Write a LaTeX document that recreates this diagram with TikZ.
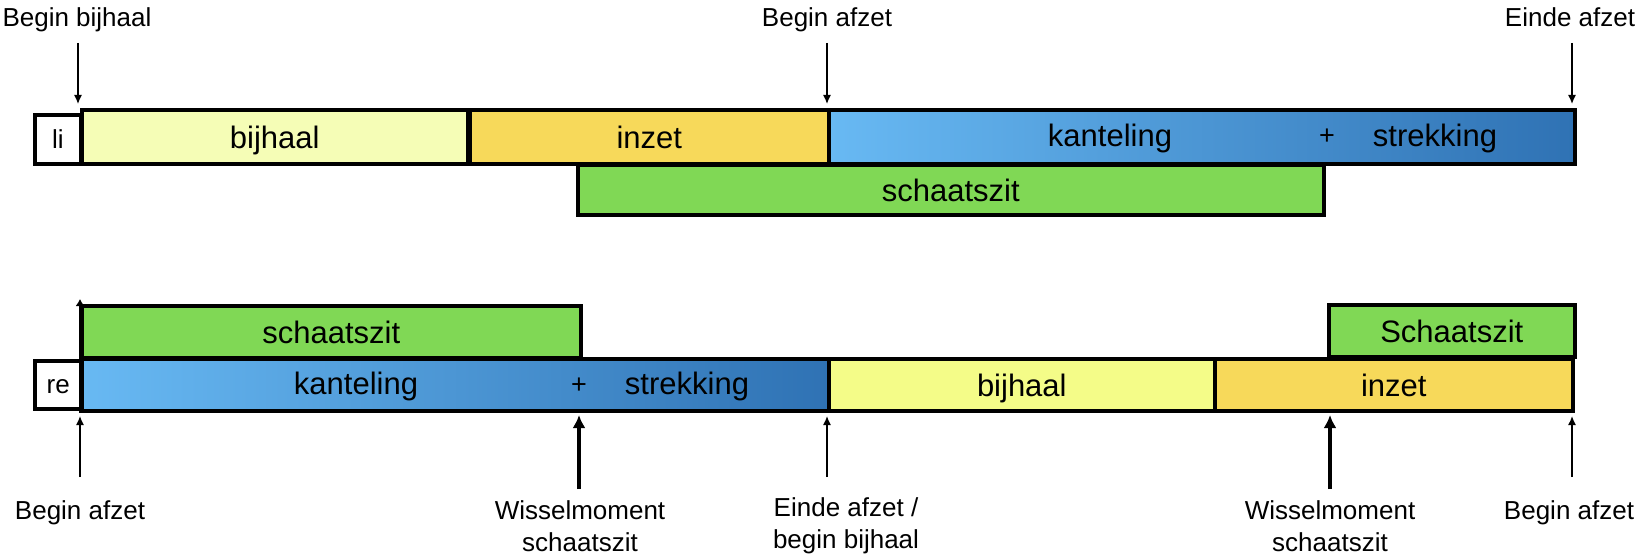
\documentclass[tikz,border=0pt]{standalone}
\usepackage{fontspec}
\setmainfont{Liberation Sans}
\usetikzlibrary{arrows.meta,calc}
\definecolor{paleyel}{HTML}{F5FDB6}
\definecolor{brightyel}{HTML}{F4FC88}
\definecolor{inzetc}{HTML}{F7D95A}
\definecolor{greenc}{HTML}{80D855}
\definecolor{bluel}{HTML}{68B9F3}
\definecolor{blued}{HTML}{2F72B4}
\begin{document}
\begin{tikzpicture}[x=1pt,y=-1pt,
  bar/.style={draw=black, line width=3.6pt, inner sep=0pt, anchor=north west,
    font=\fontsize{31}{31}\selectfont, text height=23pt, text depth=0pt},
  sidebox/.style={draw=black, line width=3.6pt, inner sep=0pt, anchor=north west, fill=white,
    font=\fontsize{26}{26}\selectfont, text height=18pt, text depth=0pt},
  bartext/.style={inner sep=0pt, font=\fontsize{31}{31}\selectfont, text height=23pt, text depth=0pt},
  plustext/.style={inner sep=0pt, font=\fontsize{27}{27}\selectfont, anchor=base},
  lbl/.style={font=\fontsize{26}{32}\selectfont, align=center, inner sep=0pt},
  thinarrow/.style={line width=1.4pt, -{Latex[length=9pt,width=8pt]}},
  thickarrow/.style={line width=3.2pt, -{Latex[length=13pt,width=13pt]}},
]
\useasboundingbox (0,0) rectangle (1643,559);

% ---------- top row (li) ----------
\node[sidebox, minimum width=46pt, minimum height=49pt] (li) at (33,113) {li};
\node[bar, fill=paleyel, minimum width=386pt, minimum height=54pt] (tb) at (80,108) {bijhaal};
\node[bar, fill=inzetc, minimum width=359pt, minimum height=54pt] (ti) at (468,108) {inzet};
\node[bar, left color=bluel, right color=blued, minimum width=746pt, minimum height=54pt] (tk) at (827,108) {};
\node[bartext] (tkt1) at (1110,135) {kanteling};
\node[plustext] (tkt2) at (1327,145) {+};
\node[bartext] (tkt3) at (1435,135) {strekking};
\node[bar, fill=greenc, minimum width=746pt, minimum height=50pt] (tg) at (576,163) {schaatszit};

\node[lbl, anchor=base] (l1) at (77,26.5) {Begin bijhaal};
\node[lbl, anchor=base] (l2) at (827,26.5) {Begin afzet};
\node[lbl, anchor=base] (l3) at (1570,26.5) {Einde afzet};
\coordinate (a1s) at (78,43);  \coordinate (a1e) at (78,104);
\coordinate (a2s) at (827,43); \coordinate (a2e) at (827,104);
\coordinate (a3s) at (1572,43); \coordinate (a3e) at (1572,104);
\draw[thinarrow] (a1s) -- (a1e);
\draw[thinarrow] (a2s) -- (a2e);
\draw[thinarrow] (a3s) -- (a3e);

% ---------- bottom row (re) ----------
\node[sidebox, minimum width=47pt, minimum height=48pt] (re) at (33,359) {re};
\node[bar, fill=greenc, minimum width=499pt, minimum height=52pt] (bg) at (80,304) {schaatszit};
\node[bar, left color=bluel, right color=blued, minimum width=747pt, minimum height=52pt] (bk) at (80,357) {};
\node[bartext] (bkt1) at (356,383) {kanteling};
\node[plustext] (bkt2) at (579,393) {+};
\node[bartext] (bkt3) at (687,383) {strekking};
\node[bar, fill=brightyel, minimum width=386pt, minimum height=52pt] (bb) at (827,357) {bijhaal};
\node[bar, fill=inzetc, minimum width=358pt, minimum height=52pt] (bi) at (1213,357) {inzet};
\node[bar, fill=greenc, minimum width=246pt, minimum height=52pt] (bg2) at (1327,303) {Schaatszit};

\draw[line width=2.6pt, -{Latex[length=7pt,width=9pt]}] (bk.south west) -- ($(bg.north west)+(0,-5)$);

\node[lbl, anchor=base] (m1) at (80,519) {Begin afzet};
\node[lbl] (m2) at (580,526) {Wisselmoment\\schaatszit};
\node[lbl] (m3) at (846,526) {Einde afzet /\\begin bijhaal};
\node[lbl] (m4) at (1330,526) {Wisselmoment\\schaatszit};
\node[lbl, anchor=base] (m5) at (1569,519) {Begin afzet};

\coordinate (b1s) at (80,477);   \coordinate (b1e) at (80,416);
\coordinate (b2s) at (579,489);  \coordinate (b2e) at (579,415);
\coordinate (b3s) at (827,477);  \coordinate (b3e) at (827,416);
\coordinate (b4s) at (1330,489); \coordinate (b4e) at (1330,415);
\coordinate (b5s) at (1572,477); \coordinate (b5e) at (1572,416);
\draw[thinarrow] (b1s) -- (b1e);
\draw[thickarrow] (b2s) -- (b2e);
\draw[thinarrow] (b3s) -- (b3e);
\draw[thickarrow] (b4s) -- (b4e);
\draw[thinarrow] (b5s) -- (b5e);
\end{tikzpicture}
\end{document}
